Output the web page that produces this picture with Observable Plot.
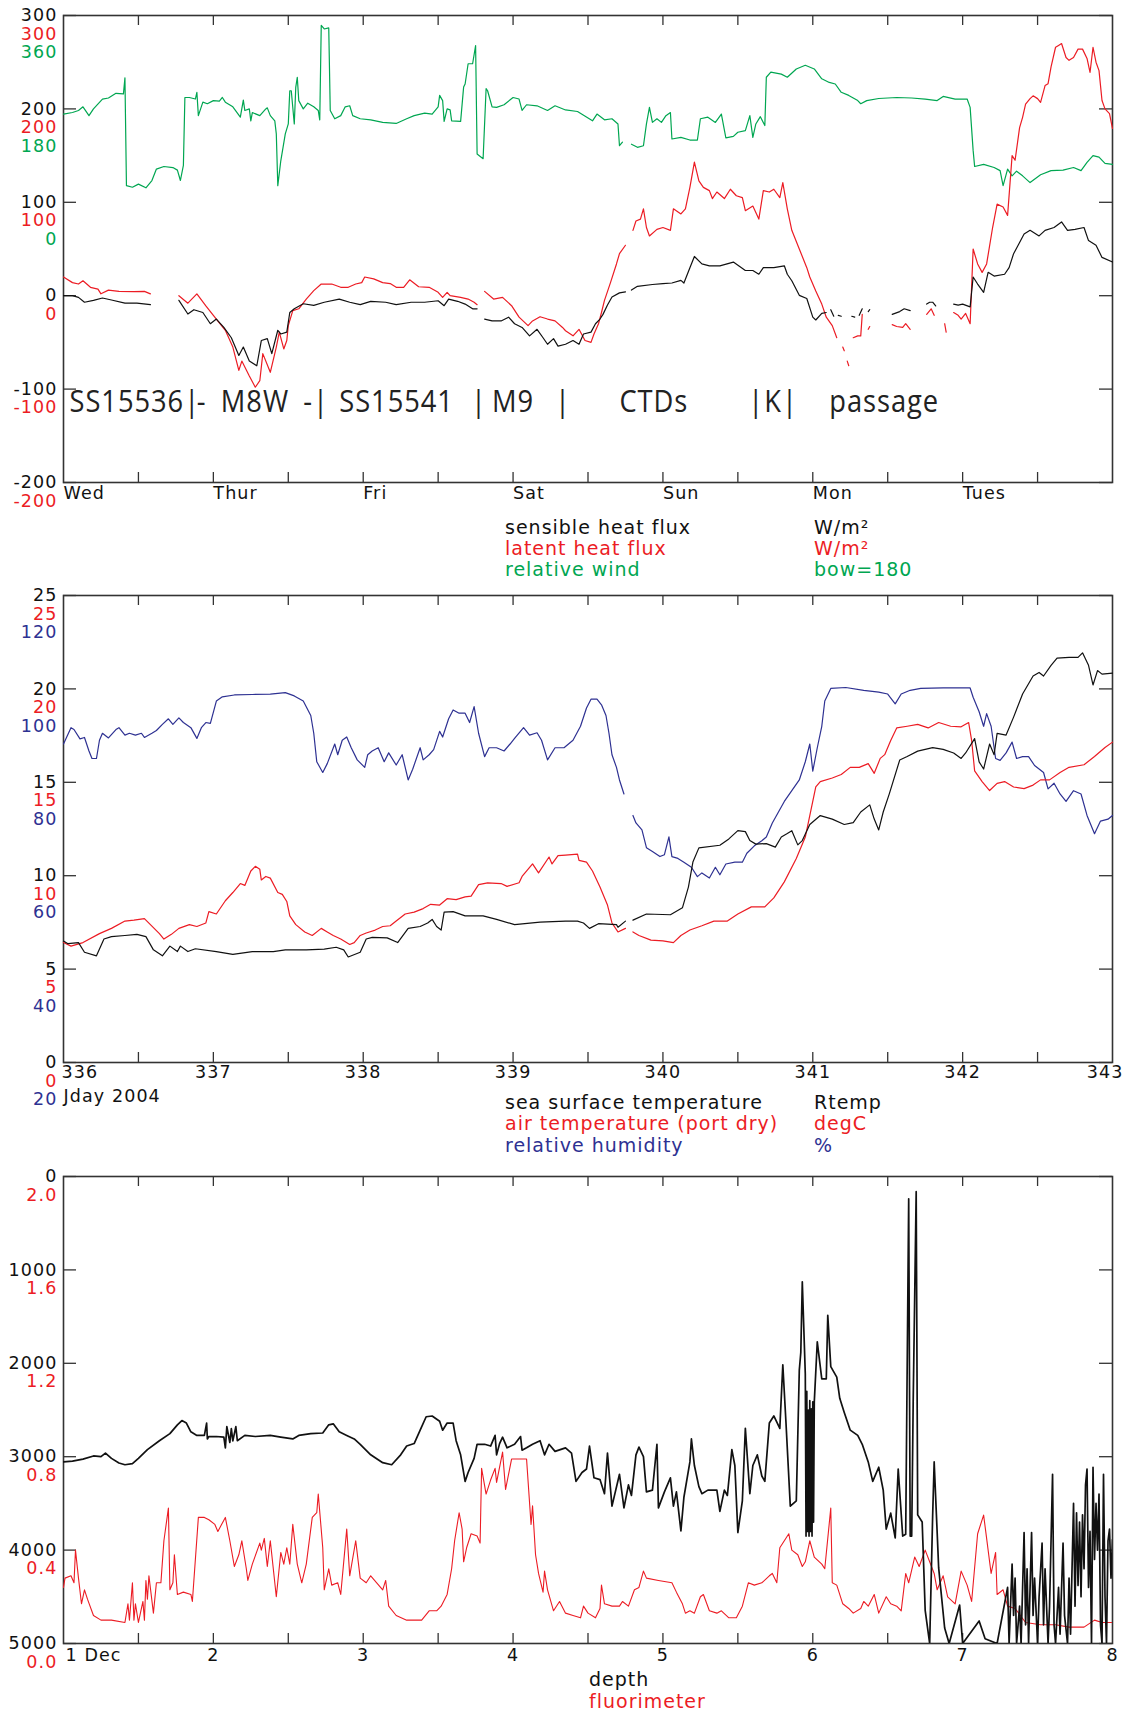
<!DOCTYPE html>
<html>
<head>
<meta charset="utf-8">
<script src="https://cdn.jsdelivr.net/npm/d3@7"></script>
<script src="https://cdn.jsdelivr.net/npm/@observablehq/plot@0.6"></script>
<style>
  html, body { margin: 0; padding: 0; background: #fff; }
  #page { position: relative; width: 1128px; height: 1713px; overflow: hidden; background: #fff; }
  #page svg { position: absolute; left: 0; overflow: visible; }
  .leg { position: absolute; font-family: "DejaVu Sans", sans-serif; font-size: 19px; letter-spacing: 1px; line-height: 19px; white-space: nowrap; }
</style>
</head>
<body>
<div id="page"></div>
<script>
// ---------------- colours ----------------
const BLACK = "#111111", RED = "#ec1c24", GREEN = "#00a651", BLUE = "#2e3192";

// ---------------- panel 1 : heat flux / wind ----------------
const dayNames = ["Wed", "Thur", "Fri", "Sat", "Sun", "Mon", "Tues"];
const dayTicks = [0, 1, 2, 3, 4, 5, 6];
const halfDays1 = [0.5, 1, 1.5, 2, 2.5, 3, 3.5, 4, 4.5, 5, 5.5, 6, 6.5];
const fluxTicks = [300, 200, 100, 0, -100, -200];
const windTicks = [360, 180, 0];
const events = [
  {d: 0.04, t: "SS15536|"}, {d: 0.89, t: "-"}, {d: 1.05, t: "M8W"}, {d: 1.60, t: "-|"},
  {d: 1.84, t: "SS15541"}, {d: 2.72, t: "|"}, {d: 2.86, t: "M9"}, {d: 3.28, t: "|"},
  {d: 3.71, t: "CTDs"}, {d: 4.57, t: "|K|"}, {d: 5.11, t: "passage"}
];
const sensible = [[0,0],[0.06,0],[0.10,-1.8],[0.14,-7],[0.20,-5],[0.26,-2.5],[0.32,-4.6],[0.41,-8],[0.49,-8],[0.58,-9.6],[0.59,null],
[0.77,-5],[0.83,-19.6],[0.87,-15],[0.93,-18],[0.98,-30],[1.02,-25],[1.07,-34],[1.12,-45],[1.17,-64],[1.20,-55],[1.24,-70],[1.29,-75],[1.32,-48],[1.36,-46],[1.39,-62],[1.43,-37],[1.45,-41],[1.49,-39],[1.51,-18],[1.54,-14],[1.60,-8.6],[1.67,-10.4],[1.74,-7],[1.84,-3.6],[1.91,-7],[1.98,-9.6],[2.05,-6],[2.15,-7],[2.22,-9.6],[2.32,-7],[2.41,-7],[2.50,-5.4],[2.54,-10.7],[2.57,-3.6],[2.63,-6],[2.68,-9],[2.73,-14],[2.76,-14],[2.78,null],
[2.81,-25],[2.86,-27],[2.92,-27],[2.97,-23],[3.01,-30],[3.06,-34],[3.11,-43],[3.16,-36],[3.20,-45],[3.23,-52],[3.27,-46],[3.30,-54],[3.35,-52],[3.40,-48],[3.44,-52],[3.47,-41],[3.52,-39],[3.55,-30],[3.58,-25],[3.60,-20],[3.63,-10],[3.66,-1.4],[3.71,3],[3.75,4],[3.77,null],
[3.79,6],[3.83,10],[3.93,12],[4.0,13],[4.06,13.6],[4.12,16.4],[4.14,13.6],[4.18,30],[4.21,42],[4.26,34],[4.31,32],[4.38,32],[4.47,36],[4.55,27],[4.60,27],[4.64,23],[4.67,30],[4.74,30],[4.81,32],[4.83,23],[4.86,16],[4.91,0.4],[4.96,-3],[5.0,-23],[5.02,-26],[5.06,-19],[5.09,-18],[5.10,null],
[5.12,-15],[5.14,-22],[5.15,null],[5.17,-21],[5.19,-22],[5.20,null],[5.26,-22],[5.28,-23],[5.29,null],[5.31,-21],[5.33,-14],[5.34,null],[5.37,-17],[5.38,-15],[5.39,null],
[5.53,-20],[5.58,-17],[5.61,-14],[5.65,-16],[5.66,null],
[5.76,-9],[5.78,-7],[5.80,-7],[5.82,-11],[5.83,null],
[5.94,-9],[5.97,-10],[6.00,-9],[6.05,-12],[6.07,20],[6.10,12.5],[6.14,3.6],[6.17,25],[6.21,21],[6.28,23],[6.31,30],[6.34,45],[6.38,57],[6.41,66],[6.45,70],[6.51,64],[6.55,70],[6.61,73],[6.66,79],[6.70,70],[6.75,71],[6.81,73],[6.84,59],[6.89,54],[6.93,41],[7.0,36]];
const latent = [[0,20],[0.06,14],[0.10,12.5],[0.13,16],[0.18,9],[0.23,7],[0.25,2],[0.30,6],[0.37,4.6],[0.47,4.3],[0.54,4.6],[0.58,2],[0.60,null],
[0.77,0],[0.83,-8],[0.89,2],[0.95,-11],[1.0,-21],[1.04,-29],[1.08,-37],[1.13,-55],[1.17,-80],[1.19,-70],[1.24,-86],[1.28,-98],[1.31,-91],[1.33,-62],[1.38,-82],[1.42,-55],[1.44,-39],[1.47,-57],[1.49,-48],[1.50,-32],[1.53,-16],[1.57,-14],[1.62,-3.6],[1.67,5.4],[1.72,12.5],[1.79,12.5],[1.85,9],[1.90,9],[1.95,12.5],[1.99,14],[2.01,20],[2.07,18],[2.13,14],[2.18,13],[2.22,9],[2.27,9],[2.31,17],[2.37,9.6],[2.44,9],[2.50,3.6],[2.53,-1.8],[2.56,3.6],[2.58,0],[2.65,-1.8],[2.70,-3.6],[2.74,-7],[2.76,-9.6],[2.78,null],
[2.81,4.6],[2.87,-3.6],[2.93,-1.8],[2.99,-10.7],[3.04,-23],[3.10,-32],[3.13,-27],[3.18,-22.5],[3.23,-25],[3.28,-27],[3.33,-34],[3.35,-37.5],[3.40,-43],[3.44,-36],[3.48,-48],[3.52,-50],[3.54,-41],[3.57,-30],[3.59,-18],[3.61,-5],[3.65,14],[3.69,34],[3.71,45],[3.75,54],[3.77,null],
[3.80,70],[3.82,80],[3.85,82],[3.87,93],[3.89,73],[3.91,64],[3.96,71],[4.0,73],[4.05,70],[4.07,93],[4.12,87.5],[4.15,93],[4.18,116],[4.21,143],[4.24,123],[4.27,116],[4.31,112.5],[4.33,104],[4.36,111],[4.41,104],[4.45,114],[4.49,107],[4.53,105],[4.55,91],[4.60,96],[4.64,82],[4.67,112.5],[4.71,111],[4.74,114],[4.78,105],[4.80,121],[4.83,93],[4.86,70],[4.91,50],[4.96,30],[4.98,20],[5.02,5],[5.06,-9],[5.09,-23],[5.13,-32],[5.16,-45],[5.17,null],
[5.20,-55],[5.21,-59],[5.22,null],[5.23,-70],[5.24,-75],[5.25,null],[5.27,-45],[5.30,-43],[5.32,-43],[5.33,-20],[5.34,null],[5.37,-36],[5.38,-33],[5.39,null],
[5.53,-31],[5.56,-33],[5.60,-34],[5.62,-30],[5.65,-36],[5.66,null],
[5.76,-20],[5.79,-14],[5.81,-21],[5.82,null],[5.88,-30],[5.89,-39],[5.90,null],
[5.94,-18],[5.97,-21],[5.99,-25],[6.02,-19],[6.05,-30],[6.07,50],[6.10,34],[6.13,25],[6.16,34],[6.20,73],[6.23,98],[6.27,95],[6.30,86],[6.33,150],[6.35,145],[6.38,180],[6.40,191],[6.42,205],[6.45,211],[6.47,214],[6.50,211],[6.52,207],[6.55,225],[6.57,227],[6.59,245],[6.62,266],[6.64,268],[6.66,270],[6.69,255],[6.71,252],[6.74,255],[6.77,264],[6.80,264],[6.83,254],[6.85,239],[6.87,266],[6.89,250],[6.91,241],[6.93,209],[6.95,200],[6.98,195],[7.0,179]];
const wind = [[0,170],[0.06,173],[0.10,177],[0.13,184],[0.17,167],[0.20,180],[0.26,199],[0.30,201],[0.35,210],[0.40,209],[0.41,240],[0.42,32],[0.46,29],[0.50,35],[0.55,28],[0.59,42],[0.62,64],[0.67,69],[0.73,67],[0.76,62],[0.78,42],[0.80,71],[0.81,202],[0.84,202],[0.88,199],[0.89,212],[0.90,167],[0.93,193],[0.96,190],[1.0,196],[1.04,195],[1.06,202],[1.08,193],[1.13,184],[1.18,164],[1.20,197],[1.21,177],[1.24,180],[1.25,157],[1.26,173],[1.31,167],[1.35,180],[1.36,182],[1.38,167],[1.41,157],[1.42,132],[1.43,32],[1.45,80],[1.48,132],[1.50,151],[1.51,215],[1.52,215],[1.54,151],[1.55,222],[1.56,241],[1.57,196],[1.60,180],[1.63,191],[1.67,184],[1.70,177],[1.71,159],[1.72,341],[1.74,334],[1.77,336],[1.78,177],[1.81,161],[1.85,167],[1.88,184],[1.91,186],[1.93,167],[1.98,161],[2.05,159],[2.13,154],[2.22,152],[2.29,161],[2.34,167],[2.41,172],[2.46,170],[2.50,184],[2.51,206],[2.53,196],[2.54,156],[2.56,180],[2.58,178],[2.59,157],[2.65,156],[2.67,222],[2.68,228],[2.70,267],[2.73,267],[2.75,302],[2.76,93],[2.80,84],[2.82,219],[2.83,215],[2.86,184],[2.89,183],[2.94,188],[3.0,202],[3.04,199],[3.06,177],[3.09,188],[3.16,186],[3.23,177],[3.28,186],[3.35,178],[3.43,175],[3.53,157],[3.56,170],[3.61,159],[3.66,161],[3.70,151],[3.71,109],[3.73,116],[3.75,null],
[3.79,112],[3.83,106],[3.87,109],[3.89,151],[3.91,183],[3.93,154],[3.96,161],[3.99,154],[4.02,167],[4.05,173],[4.06,122],[4.12,125],[4.18,120],[4.23,120],[4.25,161],[4.30,164],[4.35,154],[4.39,170],[4.42,124],[4.47,127],[4.50,135],[4.55,138],[4.58,167],[4.60,125],[4.62,151],[4.65,165],[4.68,148],[4.69,241],[4.72,251],[4.79,247],[4.83,241],[4.89,257],[4.95,264],[5.01,257],[5.06,238],[5.11,231],[5.15,228],[5.19,212],[5.24,206],[5.30,196],[5.32,190],[5.36,196],[5.44,200],[5.56,202],[5.66,201],[5.75,199],[5.83,196],[5.87,204],[5.95,199],[6.03,199],[6.05,183],[6.07,100],[6.08,69],[6.14,73],[6.21,67],[6.25,61],[6.27,32],[6.30,64],[6.33,51],[6.36,60],[6.40,51],[6.45,38],[6.52,53],[6.59,61],[6.67,62],[6.74,67],[6.79,61],[6.83,77],[6.87,90],[6.91,87],[6.95,75],[7.0,73]];

// ---------------- panel 2 : temperatures / humidity ----------------
const jdays = [336, 337, 338, 339, 340, 341, 342, 343];
const halfJdays = [336.5, 337, 337.5, 338, 338.5, 339, 339.5, 340, 340.5, 341, 341.5, 342, 342.5];
const tempTicks = [25, 20, 15, 10, 5, 0];
const rhTicks = [120, 100, 80, 60, 40, 20];
const sst = [[336.0,6.5],[336.03,6.36],[336.10,6.42],[336.14,5.9],[336.22,5.71],[336.27,6.61],[336.32,6.74],[336.41,6.8],[336.49,6.86],[336.55,6.74],[336.60,6.03],[336.66,5.71],[336.71,6.23],[336.76,5.94],[336.78,6.23],[336.83,5.94],[336.88,6.09],[337.02,5.94],[337.13,5.79],[337.26,5.94],[337.40,5.94],[337.48,6.03],[337.62,6.03],[337.74,6.07],[337.82,6.17],[337.87,6.03],[337.90,5.65],[337.98,5.9],[338.02,6.61],[338.06,6.7],[338.16,6.67],[338.23,6.42],[338.30,7.18],[338.38,7.28],[338.43,7.47],[338.46,7.66],[338.49,7.28],[338.52,7.09],[338.54,8.05],[338.60,8.08],[338.68,7.85],[338.80,7.85],[338.89,7.66],[339.01,7.38],[339.18,7.51],[339.35,7.57],[339.43,7.57],[339.47,7.47],[339.51,7.18],[339.57,7.43],[339.69,7.38],[339.70,7.24],[339.75,7.57],[339.77,null],[339.80,7.62],[339.89,7.95],[340.05,7.91],[340.13,8.28],[340.17,9.39],[340.20,10.73],[340.24,11.49],[340.38,11.63],[340.44,11.97],[340.50,12.41],[340.55,12.36],[340.58,11.88],[340.62,11.69],[340.69,11.72],[340.75,11.53],[340.79,12.07],[340.83,12.26],[340.86,12.41],[340.90,11.65],[340.93,11.88],[340.98,12.74],[341.05,13.22],[341.13,13.03],[341.21,12.74],[341.27,12.84],[341.32,13.41],[341.38,13.79],[341.41,13.03],[341.44,12.45],[341.47,13.41],[341.51,14.37],[341.58,16.19],[341.63,16.38],[341.70,16.67],[341.80,16.86],[341.87,16.76],[341.94,16.57],[341.99,16.28],[342.02,16.57],[342.08,17.34],[342.11,16.09],[342.14,15.71],[342.18,17.05],[342.21,16.48],[342.23,17.62],[342.29,17.53],[342.34,18.49],[342.40,19.73],[342.47,20.69],[342.51,20.88],[342.54,20.69],[342.59,21.26],[342.63,21.65],[342.71,21.69],[342.77,21.69],[342.80,21.93],[342.84,21.26],[342.87,20.21],[342.90,20.98],[342.93,20.79],[343.0,20.84]];
const airTemp = [[336.0,6.42],[336.05,6.23],[336.13,6.42],[336.24,6.9],[336.32,7.18],[336.41,7.57],[336.47,7.62],[336.54,7.7],[336.58,7.38],[336.64,6.9],[336.67,6.61],[336.72,6.86],[336.77,7.18],[336.84,7.38],[336.89,7.28],[336.95,7.47],[336.97,8.08],[337.02,7.95],[337.08,8.66],[337.13,9.1],[337.18,9.58],[337.21,9.48],[337.25,10.25],[337.28,10.5],[337.31,10.34],[337.32,9.77],[337.35,9.96],[337.38,9.87],[337.43,9.1],[337.46,9.0],[337.49,8.62],[337.51,7.85],[337.55,7.38],[337.61,6.99],[337.66,6.8],[337.72,7.18],[337.76,6.99],[337.80,6.8],[337.85,6.61],[337.91,6.32],[337.94,6.42],[337.98,6.8],[338.02,6.93],[338.08,7.09],[338.13,7.28],[338.18,7.32],[338.22,7.57],[338.28,7.95],[338.34,8.05],[338.40,8.24],[338.45,8.47],[338.51,8.43],[338.56,8.77],[338.62,8.72],[338.68,8.87],[338.72,8.91],[338.77,9.52],[338.83,9.62],[338.92,9.58],[338.96,9.43],[339.04,9.62],[339.06,9.96],[339.13,10.63],[339.17,10.15],[339.24,11.0],[339.26,10.63],[339.30,11.07],[339.35,11.1],[339.43,11.15],[339.44,10.82],[339.49,10.73],[339.53,10.25],[339.58,9.39],[339.63,8.43],[339.66,7.47],[339.70,6.99],[339.75,7.18],[339.77,null],[339.80,6.99],[339.84,6.8],[339.92,6.55],[340.0,6.51],[340.07,6.42],[340.12,6.8],[340.18,7.09],[340.26,7.32],[340.34,7.57],[340.43,7.57],[340.50,7.95],[340.59,8.33],[340.68,8.33],[340.74,8.81],[340.81,9.67],[340.89,10.92],[340.95,12.07],[340.98,13.22],[341.02,14.75],[341.05,15.04],[341.13,15.23],[341.19,15.42],[341.25,15.8],[341.31,15.8],[341.37,16.0],[341.41,15.48],[341.45,16.28],[341.48,16.48],[341.52,17.24],[341.56,17.91],[341.63,18.0],[341.70,18.1],[341.77,17.91],[341.84,18.2],[341.92,18.0],[341.99,17.97],[342.04,18.2],[342.06,17.24],[342.08,15.61],[342.13,15.04],[342.18,14.56],[342.23,14.94],[342.28,15.04],[342.34,14.75],[342.41,14.66],[342.47,14.85],[342.52,15.13],[342.58,15.13],[342.65,15.52],[342.71,15.8],[342.81,15.94],[342.88,16.38],[342.95,16.86],[343.0,17.15]];
const humidity = [[336.0,88.2],[336.05,91.7],[336.07,91.3],[336.11,89.3],[336.14,89.6],[336.17,86.7],[336.19,85.1],[336.22,85.1],[336.24,89.0],[336.26,90.5],[336.30,89.5],[336.35,91.3],[336.37,91.7],[336.41,90.1],[336.44,90.5],[336.48,90.1],[336.52,90.5],[336.54,89.6],[336.59,90.5],[336.62,91.1],[336.66,92.4],[336.70,93.6],[336.73,92.4],[336.77,93.8],[336.80,92.8],[336.85,91.7],[336.89,89.4],[336.92,91.7],[336.95,92.8],[336.98,92.6],[337.02,97.4],[337.06,98.3],[337.14,98.7],[337.26,98.8],[337.38,98.9],[337.48,99.2],[337.54,98.5],[337.60,97.4],[337.65,94.3],[337.67,90.5],[337.69,84.4],[337.73,82.1],[337.76,84.0],[337.81,88.2],[337.83,85.9],[337.86,89.0],[337.89,89.7],[337.92,87.4],[337.96,84.8],[338.01,83.2],[338.03,85.9],[338.06,86.7],[338.10,87.4],[338.14,84.4],[338.17,86.3],[338.22,83.7],[338.26,85.9],[338.30,80.5],[338.33,82.8],[338.38,87.4],[338.40,84.8],[338.44,85.9],[338.47,87.0],[338.51,90.9],[338.53,89.7],[338.57,93.6],[338.60,95.5],[338.64,94.8],[338.68,94.8],[338.71,92.8],[338.74,96.2],[338.77,90.5],[338.81,85.5],[338.84,87.4],[338.89,87.4],[338.94,86.7],[338.98,88.2],[339.01,89.4],[339.07,91.7],[339.11,90.1],[339.16,90.6],[339.19,89.0],[339.23,84.8],[339.28,87.4],[339.34,87.4],[339.40,89.0],[339.45,92.0],[339.49,95.9],[339.52,97.8],[339.56,97.8],[339.59,96.6],[339.62,94.3],[339.64,90.5],[339.66,85.9],[339.69,83.2],[339.71,80.5],[339.74,77.5],[339.77,null],[339.80,72.9],[339.82,71.3],[339.86,69.8],[339.89,66.0],[339.93,65.2],[339.98,64.1],[340.01,64.5],[340.04,68.3],[340.06,64.1],[340.10,63.7],[340.14,62.9],[340.19,61.8],[340.23,59.8],[340.26,60.6],[340.31,59.5],[340.35,61.8],[340.38,60.2],[340.42,62.5],[340.48,62.9],[340.53,62.9],[340.56,64.8],[340.61,66.4],[340.66,67.5],[340.69,68.3],[340.73,71.3],[340.77,73.6],[340.81,75.9],[340.86,78.2],[340.91,80.5],[340.95,84.4],[340.98,88.2],[341.00,82.4],[341.03,87.4],[341.06,92.0],[341.08,97.4],[341.12,100.1],[341.22,100.3],[341.34,99.7],[341.44,99.3],[341.50,98.9],[341.55,96.8],[341.59,98.9],[341.65,99.7],[341.72,100.1],[341.87,100.2],[342.05,100.2],[342.07,98.2],[342.11,95.1],[342.14,92.0],[342.16,94.7],[342.19,92.0],[342.22,85.1],[342.25,84.7],[342.29,86.3],[342.33,88.6],[342.36,85.1],[342.40,85.5],[342.44,85.5],[342.48,83.6],[342.54,82.1],[342.57,78.6],[342.61,79.8],[342.65,77.5],[342.69,75.9],[342.74,78.2],[342.79,77.5],[342.83,72.9],[342.88,69.0],[342.92,71.7],[342.97,72.1],[343.0,72.9]];

// ---------------- panel 3 : depth / fluorimeter ----------------
const decTicks = [1, 2, 3, 4, 5, 6, 7, 8];
const decNames = ["1 Dec", "2", "3", "4", "5", "6", "7", "8"];
const halfDec = [1.5, 2, 2.5, 3, 3.5, 4, 4.5, 5, 5.5, 6, 6.5, 7, 7.5];
const depthTicks = [0, 1000, 2000, 3000, 4000, 5000];
const fluorTicks = [2.0, 1.6, 1.2, 0.8, 0.4, 0.0];
const depth = [[1.0,3056],[1.06,3048],[1.13,3026],[1.20,2992],[1.25,2999],[1.28,2961],[1.32,3018],[1.37,3067],[1.41,3086],[1.46,3075],[1.50,3018],[1.56,2924],[1.64,2829],[1.71,2753],[1.76,2659],[1.79,2613],[1.82,2640],[1.85,2734],[1.89,2772],[1.94,2772],[1.955,2640],[1.96,2810],[1.97,2784],[2.02,2784],[2.07,2791],[2.08,2905],[2.09,2678],[2.11,2848],[2.12,2700],[2.13,2830],[2.15,2678],[2.16,2829],[2.21,2772],[2.28,2784],[2.38,2772],[2.45,2791],[2.53,2810],[2.57,2772],[2.65,2753],[2.73,2746],[2.77,2659],[2.80,2648],[2.84,2734],[2.89,2772],[2.94,2810],[2.98,2867],[3.05,2980],[3.13,3064],[3.19,3086],[3.25,2980],[3.29,2886],[3.34,2859],[3.38,2716],[3.42,2572],[3.46,2564],[3.51,2621],[3.53,2716],[3.56,2640],[3.60,2640],[3.62,2829],[3.65,2980],[3.68,3264],[3.70,3169],[3.74,3018],[3.76,2867],[3.81,2867],[3.85,2886],[3.88,2772],[3.89,2980],[3.91,2860],[3.93,2791],[3.96,2905],[4.01,2867],[4.05,2784],[4.06,2930],[4.09,2905],[4.13,2867],[4.18,2829],[4.21,2980],[4.24,2867],[4.28,2943],[4.35,2905],[4.39,2961],[4.42,3264],[4.46,3169],[4.49,3132],[4.51,2886],[4.54,3226],[4.58,3245],[4.61,3396],[4.63,2961],[4.66,3529],[4.71,3188],[4.74,3548],[4.77,3302],[4.79,3415],[4.82,2980],[4.84,2897],[4.87,2999],[4.89,3377],[4.93,3358],[4.96,2867],[4.97,3548],[5.01,3377],[5.05,3226],[5.07,3529],[5.09,3377],[5.12,3794],[5.14,3434],[5.18,3056],[5.19,2810],[5.21,3094],[5.24,3321],[5.26,3396],[5.30,3358],[5.36,3358],[5.38,3585],[5.41,3358],[5.43,3415],[5.46,2924],[5.48,3094],[5.50,3812],[5.53,3472],[5.55,2697],[5.58,3396],[5.60,3094],[5.63,2980],[5.66,3207],[5.68,3264],[5.71,2640],[5.74,2564],[5.78,2697],[5.80,2016],[5.82,2602],[5.85,3529],[5.89,3472],[5.91,2073],[5.92,1884],[5.93,1127],[5.95,2111],[5.955,3850],[5.96,2300],[5.965,3800],[5.97,2500],[5.975,3850],[5.98,2400],[5.985,3800],[5.99,2489],[5.995,3850],[6.0,2413],[6.005,3700],[6.01,2413],[6.03,1770],[6.06,2167],[6.09,2167],[6.10,1486],[6.12,2035],[6.16,2148],[6.18,2375],[6.21,2526],[6.25,2716],[6.30,2772],[6.33,2867],[6.37,3056],[6.40,3264],[6.44,3113],[6.47,3358],[6.49,3775],[6.52,3604],[6.55,3869],[6.57,3132],[6.60,3850],[6.62,3831],[6.64,238],[6.65,3850],[6.66,3850],[6.67,2413],[6.69,163],[6.70,3623],[6.73,3699],[6.75,4645],[6.78,5000],[6.80,3623],[6.81,3056],[6.84,4191],[6.88,4834],[6.91,5000],[6.98,4588],[7.0,5000],[7.11,4758],[7.15,4950],[7.23,5000],[7.30,4400],[7.31,5000],[7.33,4150],[7.34,4700],[7.35,4300],[7.36,5000],[7.38,4600],[7.39,5000],[7.41,3812],[7.42,4800],[7.43,4200],[7.44,5000],[7.46,3812],[7.47,4700],[7.48,4300],[7.50,5000],[7.51,4500],[7.53,3926],[7.54,4800],[7.55,4200],[7.57,5000],[7.58,4600],[7.60,3188],[7.61,4800],[7.62,5000],[7.64,4400],[7.65,4900],[7.67,3926],[7.68,4700],[7.70,5000],[7.71,4300],[7.72,4900],[7.74,3500],[7.75,4600],[7.76,3600],[7.77,4380],[7.78,3700],[7.79,4500],[7.80,3623],[7.81,4200],[7.82,3300],[7.83,3132],[7.84,4400],[7.85,3800],[7.86,5000],[7.87,3113],[7.88,4100],[7.89,3500],[7.90,4001],[7.91,3400],[7.92,4800],[7.93,5000],[7.94,3188],[7.95,4500],[7.96,5000],[7.97,3900],[7.98,3775],[7.99,4300],[8.0,3888]];
const fluor = [[1.0,0.24],[1.01,0.28],[1.05,0.29],[1.07,0.26],[1.08,0.40],[1.10,0.28],[1.12,0.17],[1.14,0.23],[1.16,0.19],[1.20,0.12],[1.25,0.10],[1.32,0.10],[1.41,0.09],[1.43,0.17],[1.44,0.10],[1.46,0.26],[1.47,0.10],[1.48,0.17],[1.50,0.09],[1.53,0.18],[1.54,0.10],[1.55,0.27],[1.56,0.19],[1.57,0.29],[1.60,0.13],[1.62,0.26],[1.65,0.26],[1.67,0.44],[1.70,0.58],[1.71,0.23],[1.73,0.26],[1.74,0.38],[1.76,0.21],[1.80,0.22],[1.85,0.21],[1.86,0.18],[1.90,0.54],[1.94,0.54],[1.97,0.53],[2.01,0.51],[2.03,0.48],[2.08,0.54],[2.11,0.44],[2.14,0.33],[2.17,0.38],[2.19,0.44],[2.22,0.32],[2.23,0.27],[2.26,0.34],[2.31,0.43],[2.32,0.40],[2.34,0.45],[2.36,0.33],[2.38,0.44],[2.42,0.20],[2.45,0.39],[2.47,0.34],[2.49,0.41],[2.51,0.34],[2.53,0.51],[2.56,0.34],[2.59,0.26],[2.62,0.34],[2.66,0.54],[2.69,0.56],[2.70,0.64],[2.73,0.41],[2.74,0.23],[2.77,0.32],[2.79,0.25],[2.83,0.26],[2.85,0.21],[2.89,0.49],[2.91,0.29],[2.95,0.44],[2.98,0.28],[3.02,0.26],[3.05,0.29],[3.09,0.26],[3.13,0.23],[3.15,0.27],[3.17,0.16],[3.22,0.12],[3.29,0.10],[3.39,0.10],[3.44,0.14],[3.49,0.14],[3.52,0.16],[3.56,0.21],[3.59,0.32],[3.61,0.44],[3.64,0.56],[3.66,0.49],[3.67,0.35],[3.69,0.41],[3.72,0.47],[3.76,0.46],[3.78,0.43],[3.79,0.75],[3.82,0.64],[3.85,0.70],[3.88,0.75],[3.89,0.69],[3.93,0.82],[3.95,0.66],[3.99,0.79],[4.04,0.79],[4.09,0.79],[4.12,0.51],[4.13,0.59],[4.15,0.38],[4.17,0.30],[4.20,0.22],[4.21,0.31],[4.23,0.23],[4.27,0.14],[4.31,0.18],[4.35,0.13],[4.40,0.12],[4.45,0.11],[4.47,0.16],[4.50,0.13],[4.55,0.11],[4.58,0.15],[4.59,0.25],[4.61,0.17],[4.66,0.16],[4.71,0.16],[4.73,0.18],[4.77,0.16],[4.81,0.23],[4.84,0.24],[4.87,0.31],[4.89,0.28],[4.97,0.27],[5.06,0.26],[5.09,0.22],[5.13,0.17],[5.15,0.13],[5.18,0.14],[5.21,0.13],[5.25,0.20],[5.27,0.21],[5.31,0.14],[5.36,0.13],[5.39,0.14],[5.44,0.11],[5.49,0.11],[5.53,0.16],[5.57,0.26],[5.61,0.25],[5.66,0.26],[5.71,0.29],[5.73,0.30],[5.76,0.26],[5.78,0.41],[5.81,0.44],[5.84,0.47],[5.86,0.40],[5.90,0.38],[5.93,0.33],[5.95,0.35],[5.98,0.44],[6.01,0.37],[6.06,0.34],[6.08,0.32],[6.12,0.58],[6.13,0.26],[6.16,0.25],[6.20,0.17],[6.24,0.15],[6.27,0.13],[6.32,0.15],[6.34,0.18],[6.37,0.16],[6.41,0.21],[6.44,0.13],[6.49,0.20],[6.52,0.17],[6.56,0.16],[6.59,0.14],[6.62,0.30],[6.64,0.26],[6.68,0.37],[6.71,0.33],[6.75,0.40],[6.78,0.35],[6.81,0.30],[6.83,0.23],[6.87,0.29],[6.90,0.20],[6.95,0.17],[6.99,0.31],[7.03,0.25],[7.06,0.18],[7.10,0.47],[7.14,0.55],[7.16,0.45],[7.19,0.30],[7.22,0.39],[7.23,0.21],[7.27,0.23],[7.30,0.16],[7.35,0.15],[7.42,0.09],[7.52,0.08],[7.62,0.08],[7.71,0.07],[7.81,0.07],[7.88,0.10],[7.93,0.09],[8.0,0.09]];

// ---------------- helpers ----------------
const W = 1128, ML = 63, MR = 16, FH = 467, FW = W - ML - MR;
const FONT = "DejaVu Sans";
const FS = 17.5;
const tickStyle = {fontFamily: FONT, fontSize: FS + "px", letterSpacing: "1.1px"};
const ROW = 18.5;
const fmt1 = d3.format(".1f");

function frameMarks(half, yMajor) {
  return [
    Plot.frame({stroke: "#333", strokeWidth: 1.6}),
    Plot.tickX(half, {x: d => d, insetBottom: FH - 10, stroke: "#333", strokeWidth: 1.3}),
    Plot.tickX(half, {x: d => d, insetTop: FH - 10, stroke: "#333", strokeWidth: 1.3}),
    Plot.tickY(yMajor, {y: d => d, insetRight: FW - 13, stroke: "#333", strokeWidth: 1.3}),
    Plot.tickY(yMajor, {y: d => d, insetLeft: FW - 13, stroke: "#333", strokeWidth: 1.3})
  ];
}
function yLabels(vals, yFn, text, color, dy) {
  return Plot.text(vals, {y: yFn, text, frameAnchor: "left", textAnchor: "end", dx: -6, dy, fill: color, fontSize: FS, fontFamily: FONT});
}
const page = document.getElementById("page");
function place(svg, top) { svg.style.top = top + "px"; page.appendChild(svg); }

// ---------------- panel 1 ----------------
const windY = g => (g == null ? null : 100 + g * 100 / 180);
const p1 = Plot.plot({
  width: W, height: 520, marginLeft: ML, marginRight: MR, marginTop: 15, marginBottom: 38,
  style: tickStyle,
  x: {domain: [0, 7], axis: null},
  y: {domain: [-200, 300], axis: null},
  marks: [
    ...frameMarks(halfDays1, fluxTicks),
    yLabels(fluxTicks, d => d, d => String(d), BLACK, 0),
    yLabels(fluxTicks, d => d, d => String(d), RED, ROW),
    yLabels(windTicks, d => windY(d), d => String(d), GREEN, 2 * ROW),
    Plot.text(dayTicks, {x: d => d, frameAnchor: "bottom", text: (d, i) => dayNames[i], textAnchor: "start", dy: 16, fill: BLACK, fontSize: FS, fontFamily: FONT}),
    Plot.line(wind, {x: d => d[0], y: d => windY(d[1]), stroke: GREEN, strokeWidth: 1.2}),
    Plot.line(latent, {x: d => d[0], y: d => d[1], stroke: RED, strokeWidth: 1.2}),
    Plot.line(sensible, {x: d => d[0], y: d => d[1], stroke: BLACK, strokeWidth: 1.2}),
    Plot.text(events, {x: "d", y: () => -100, text: "t", textAnchor: "start", lineAnchor: "top", dy: 1, fill: "#222", fontSize: 31, fontFamily: "Open Sans", className: "ann", letterSpacing: "0px"})
  ]
});
// narrow the event annotation glyphs horizontally (the original uses a condensed face)
p1.querySelectorAll(".ann text").forEach(t => {
  const tr = t.getAttribute("transform");
  if (tr) t.setAttribute("transform", tr + " scale(0.88,1)");
  else {
    const x = +t.getAttribute("x") || 0;
    t.setAttribute("transform", `translate(${x},0) scale(0.88,1) translate(${-x},0)`);
  }
});
place(p1, 0);

// ---------------- panel 2 ----------------
const rhY = b => (b == null ? null : b / 4 - 5);
const p2 = Plot.plot({
  width: W, height: 560, marginLeft: ML, marginRight: MR, marginTop: 35, marginBottom: 58,
  style: tickStyle,
  x: {domain: [336, 343], axis: null},
  y: {domain: [0, 25], axis: null},
  marks: [
    ...frameMarks(halfJdays, tempTicks),
    yLabels(tempTicks, d => d, d => String(d), BLACK, 0),
    yLabels(tempTicks, d => d, d => String(d), RED, ROW),
    yLabels(rhTicks, d => rhY(d), d => String(d), BLUE, 2 * ROW),
    Plot.text(jdays.slice(0, 1), {x: d => d, frameAnchor: "bottom", text: d => String(d), textAnchor: "start", dx: -2, dy: 15, fill: BLACK, fontSize: FS, fontFamily: FONT}),
    Plot.text(jdays.slice(1, -1), {x: d => d, frameAnchor: "bottom", text: d => String(d), textAnchor: "middle", dy: 15, fill: BLACK, fontSize: FS, fontFamily: FONT}),
    Plot.text(jdays.slice(-1), {x: d => d, frameAnchor: "bottom", text: d => String(d), textAnchor: "end", dx: 11, dy: 15, fill: BLACK, fontSize: FS, fontFamily: FONT}),
    Plot.text(["Jday 2004"], {frameAnchor: "bottom-left", text: d => d, textAnchor: "start", dy: 39, fill: BLACK, fontSize: FS, fontFamily: FONT}),
    Plot.line(humidity, {x: d => d[0], y: d => rhY(d[1]), stroke: BLUE, strokeWidth: 1.2}),
    Plot.line(airTemp, {x: d => d[0], y: d => d[1], stroke: RED, strokeWidth: 1.2}),
    Plot.line(sst, {x: d => d[0], y: d => d[1], stroke: BLACK, strokeWidth: 1.2})
  ]
});
place(p2, 560);

// ---------------- panel 3 ----------------
const fluY = f => (f == null ? null : 5000 - f * 2500);
const p3 = Plot.plot({
  width: W, height: 543, marginLeft: ML, marginRight: MR, marginTop: 36, marginBottom: 40,
  style: tickStyle,
  x: {domain: [1, 8], axis: null},
  y: {domain: [5000, 0], axis: null},
  marks: [
    ...frameMarks(halfDec, depthTicks),
    yLabels(depthTicks, d => d, d => String(d), BLACK, 0),
    yLabels(fluorTicks, d => fluY(d), d => fmt1(d), RED, ROW),
    Plot.text(decTicks.slice(0, 1), {x: d => d, frameAnchor: "bottom", text: () => decNames[0], textAnchor: "start", dx: 2, dy: 17, fill: BLACK, fontSize: FS, fontFamily: FONT}),
    Plot.text(decTicks.slice(1), {x: d => d, frameAnchor: "bottom", text: (d, i) => decNames[i + 1], textAnchor: "middle", dy: 17, fill: BLACK, fontSize: FS, fontFamily: FONT}),
    Plot.line(fluor, {x: d => d[0], y: d => fluY(d[1]), stroke: RED, strokeWidth: 1.1, clip: true}),
    Plot.line(depth, {x: d => d[0], y: d => d[1], stroke: BLACK, strokeWidth: 1.7, clip: true})
  ]
});
place(p3, 1140);

// ---------------- legends ----------------
const legends = [
  [505, 528, BLACK, "sensible heat flux"], [505, 549, RED, "latent heat flux"], [505, 570, GREEN, "relative wind"],
  [814, 528, BLACK, "W/m²"], [814, 549, RED, "W/m²"], [814, 570, GREEN, "bow=180"],
  [505, 1103, BLACK, "sea surface temperature"], [505, 1124, RED, "air temperature (port dry)"], [505, 1146, BLUE, "relative humidity"],
  [814, 1103, BLACK, "Rtemp"], [814, 1124, RED, "degC"], [814, 1146, BLUE, "%"],
  [589, 1680, BLACK, "depth"], [589, 1702, RED, "fluorimeter"]
];
for (const [x, y, c, t] of legends) {
  const el = document.createElement("div");
  el.className = "leg";
  el.style.left = x + "px";
  el.style.top = (y - 10) + "px";
  el.style.color = c;
  el.textContent = t;
  page.appendChild(el);
}
</script>
</body>
</html>
